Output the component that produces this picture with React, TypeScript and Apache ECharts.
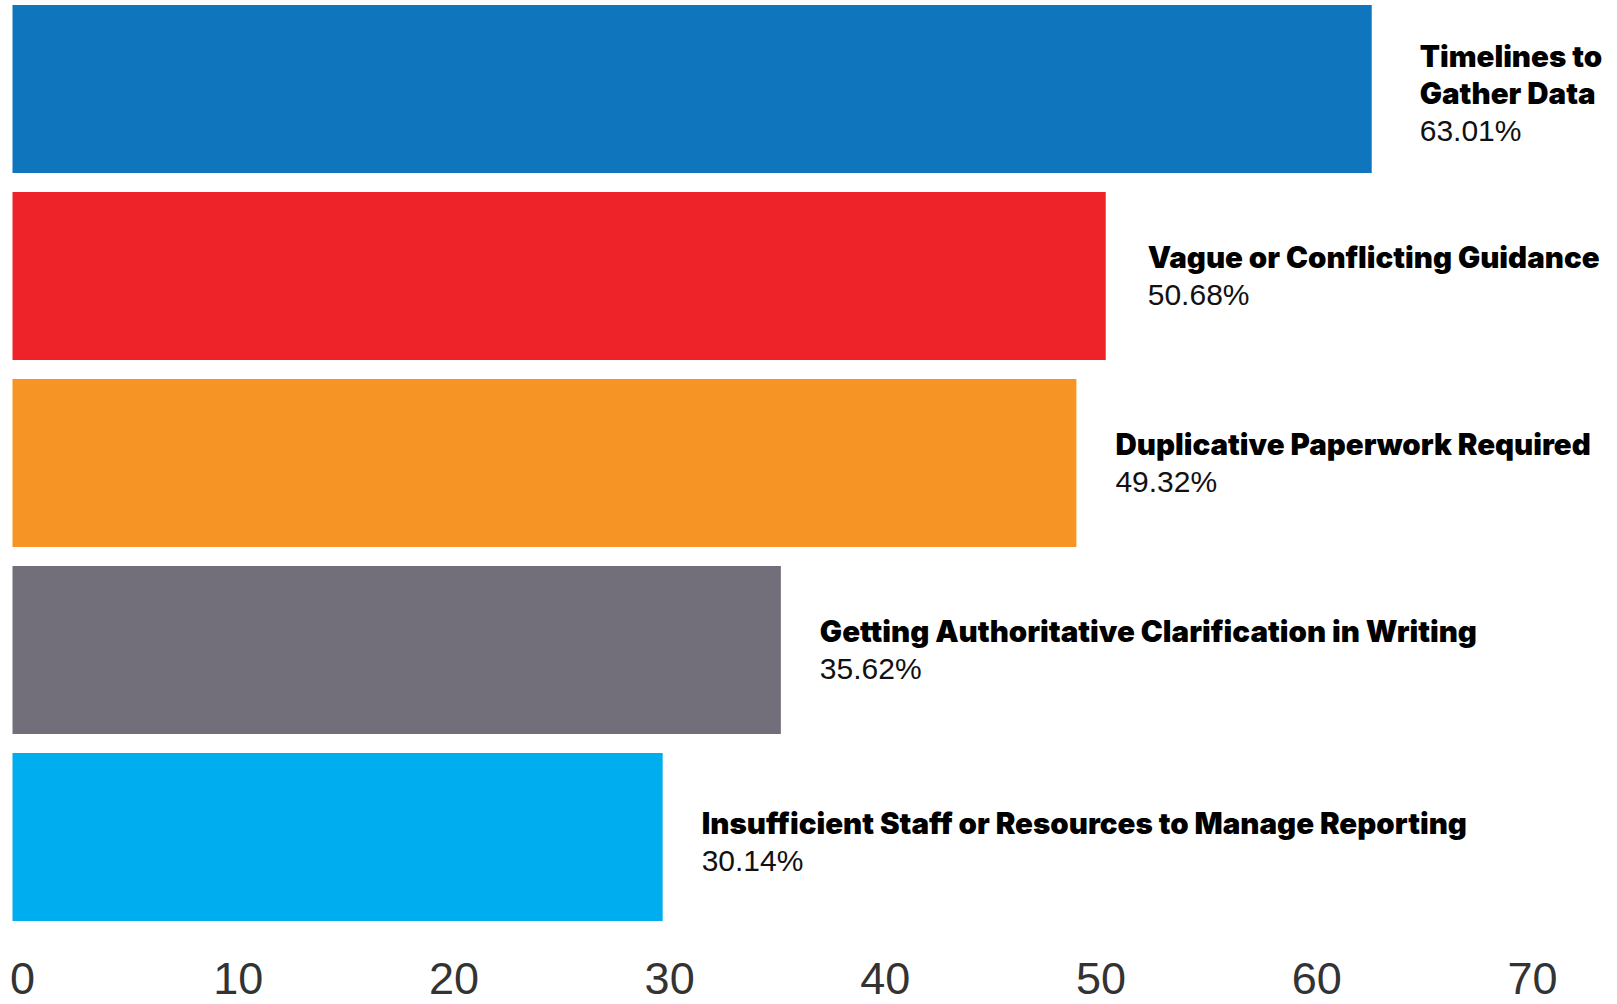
import React, { useEffect, useRef } from "react";
import * as echarts from "echarts";

const categories = [
  "Timelines to\nGather Data",
  "Vague or Conflicting Guidance",
  "Duplicative Paperwork Required",
  "Getting Authoritative Clarification in Writing",
  "Insufficient Staff or Resources to Manage Reporting",
];
const values = [63.01, 50.68, 49.32, 35.62, 30.14];
const colors = ["#0F75BC", "#EE2229", "#F79426", "#736F7A", "#00AEEF"];
const xTicks = [0, 10, 20, 30, 40, 50, 60, 70];

export default function App() {
  const ref = useRef<HTMLDivElement>(null);
  useEffect(() => {
    if (!ref.current) return;
    const chart = echarts.init(ref.current, undefined, { renderer: "svg" });
    chart.setOption({
      animation: false,
      grid: {
        left: 12.5,
        width: 1510,
        top: -4.5,
        height: 935,
        containLabel: false,
        outerBoundsMode: "none",
      },
      xAxis: {
        type: "value",
        min: xTicks[0],
        max: xTicks[xTicks.length - 1],
        interval: 10,
        axisLine: { show: false },
        axisTick: { show: false },
        splitLine: { show: false },
        axisLabel: {
          margin: 30,
          fontSize: 45,
          lineHeight: 36,
          color: "#333333",
          fontFamily: "Liberation Sans, Arial, sans-serif",
          padding: [0, 0, 0, 20],
        },
      },
      yAxis: {
        type: "category",
        inverse: true,
        data: categories,
        show: false,
      },
      series: [
        {
          type: "bar",
          barWidth: 168,
          data: values.map((v, i) => ({
            value: v,
            itemStyle: { color: colors[i] },
            label: {
              distance: i === 0 ? 48 : i === 1 ? 42 : 39,
              offset: i === 4 ? [0, 5] : i === 0 ? [0, 4] : [0, 0],
            },
          })),
          label: {
            show: true,
            position: "right",
            formatter: (p: any) =>
              `{b|${p.name.split("\n").join("}\n{b|")}}\n{v|${p.value.toFixed(2)}%}`,
            rich: {
              b: {
                fontFamily: "Inter, sans-serif",
                fontWeight: 900,
                fontSize: 29.5,
                lineHeight: 37.5,
                color: "#000000",
              },
              v: {
                fontFamily: "Liberation Sans, Arial, sans-serif",
                fontSize: 30,
                lineHeight: 37.5,
                color: "#111111",
              },
            },
          },
        },
      ],
    });
    return () => chart.dispose();
  }, []);
  return (
    <div
      ref={ref}
      style={{ position: "fixed", left: 0, top: 0, width: 1617, height: 1004, background: "#ffffff" }}
    />
  );
}
